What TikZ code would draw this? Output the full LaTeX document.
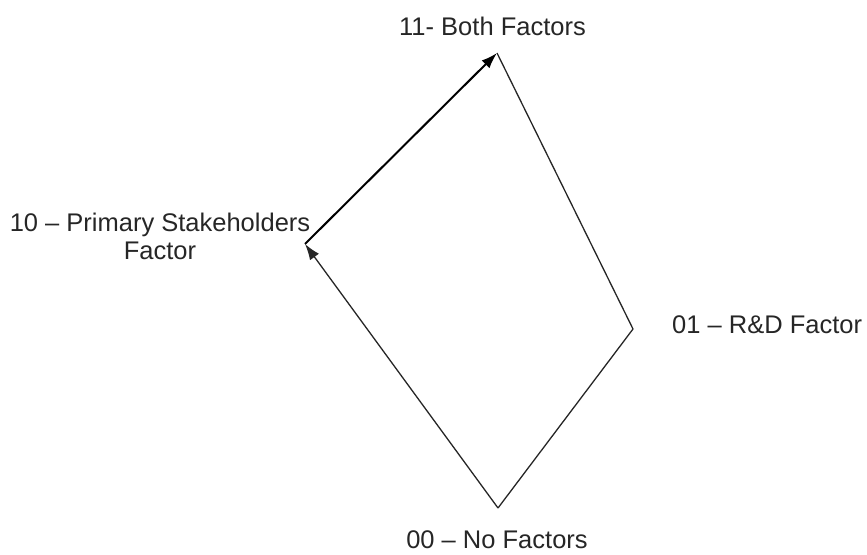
\documentclass[tikz,border=0pt]{standalone}
\usepackage{fontspec}
\setmainfont{Liberation Sans}
\usetikzlibrary{arrows.meta}

\begin{document}
\begin{tikzpicture}[x=1pt, y=-1pt,
		label_style/.style={font=\fontsize{25.5}{28}\selectfont, text=black!85, inner sep=0pt},
		edge_style/.style={draw=black!85, line width=1.3pt},
		arrow_style/.style={edge_style, -{Latex[length=16pt, width=11pt]}},
		strong_style/.style={arrow_style, line width=2pt, draw=black}]

		\useasboundingbox (0,0) rectangle (867,554);

		\coordinate (s00) at (498,508);
		\coordinate (s10) at (305,244);
		\coordinate (s11) at (497,53);
		\coordinate (s01) at (633,329);

		\node[label_style, anchor=base] (l11) at (492.5,35) {11- Both Factors};
		\node[label_style, anchor=center, align=center] (l10) at (160,236) {10 -- Primary Stakeholders\\Factor};
		\node[label_style, anchor=base west] (l01) at (672,333) {01 -- R\&D Factor};
		\node[label_style, anchor=base] (l00) at (497,548) {00 -- No Factors};

		\draw[arrow_style]  (s00) -- (s10);
		\draw[strong_style] (s10) -- (s11);
		\draw[edge_style]   (s11) -- (s01);
		\draw[edge_style]   (s01) -- (s00);

\end{tikzpicture}
\end{document}
